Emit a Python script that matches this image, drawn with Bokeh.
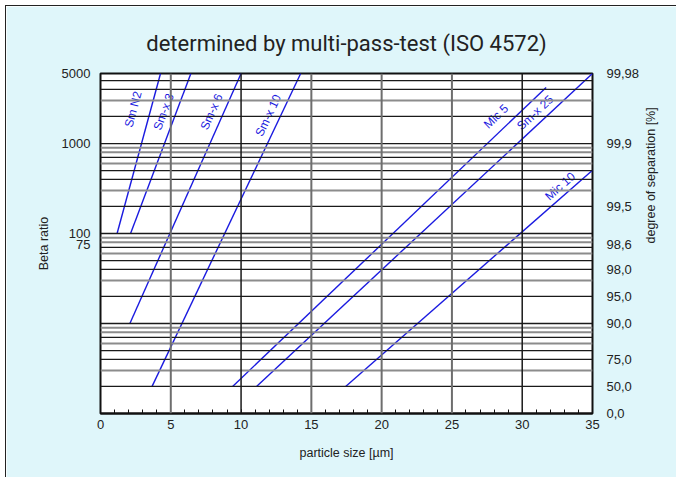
import math
from bokeh.plotting import figure
from bokeh.models import (LogAxis, FixedTicker, SingleIntervalTicker, Span,
                          ColumnDataSource, Range1d)
from bokeh.core.properties import value
from bokeh.embed import file_html
from bokeh.resources import INLINE

# ---------------- data ----------------
series = ["Sm N2", "Sm-x 3", "Sm-x 6", "Sm-x 10", "Mic 5", "Sm-x 25", "Mic 10"]
size_start = [1.18, 2.14, 2.09, 3.67, 9.4, 11.1, 17.44]      # particle size [µm]
size_end = [4.27, 6.43, 10.0, 14.24, 31.7, 35.0, 35.0]
beta_start = [100, 100, 10, 2, 2, 2, 2]                     # beta ratio
beta_end = [6000, 6000, 6000, 6000, 4200, 6000, 505]
label_size = [2.32, 4.49, 7.90, 11.93, 28.14, 30.92, 32.70]
label_beta = [2400, 2250, 2250, 2050, 2000, 2200, 335]

left_ticks = [75, 100, 1000, 6000]
left_labels = ["75", "100", "1000", "5000"]
right_ticks = [1, 2, 4, 10, 20, 40, 75, 200, 1000, 6000]
right_labels = ["0,0", "50,0", "75,0", "90,0", "95,0", "98,0", "98,6",
                "99,5", "99,9", "99,98"]
x_major = [5, 10, 15, 20, 25, 30]

# ---------------- styling constants ----------------
X_MIN, X_MAX = 0, 35
Y_MIN, Y_MAX = 1, 6000
FW, FH = 492, 340
BLUE = "#1a1ae0"
BG = "#dff6fa"
FONT = "Liberation Sans"

p = figure(frame_width=FW, frame_height=FH,
           x_range=Range1d(X_MIN, X_MAX), y_range=Range1d(Y_MIN, Y_MAX),
           y_axis_type="log", output_backend="svg", toolbar_location=None,
           min_border_left=94, min_border_right=84, min_border_top=67,
           min_border_bottom=64,
           background_fill_color="white", border_fill_color=BG,
           outline_line_color="#111111", outline_line_width=2,
           title="determined by multi-pass-test (ISO 4572)")
p.styles = {"margin-left": "5px", "margin-top": "5px",
            "border-left": "1px solid #222", "border-top": "1px solid #222"}

p.title.align = "center"
p.title.text_font = "Roboto"
p.title.text_font_size = "22px"
p.title.text_font_style = "normal"
p.title.text_color = "#222222"
p.title.standoff = 36

p.xgrid.visible = False
p.ygrid.visible = False

# horizontal log grid lines
for k in range(0, 4):
    for n in range(1, 10):
        v = n * 10 ** k
        if v <= Y_MIN or v >= Y_MAX:
            continue
        dark = n in (1, 2, 4, 5, 7)
        p.add_layout(Span(location=v, dimension="width",
                          line_color="#1a1a1a" if dark else "#8c8c8c",
                          line_width=1.3 if dark else 2))
# vertical grid lines
for xv in x_major:
    dark = xv in (10, 30)
    p.add_layout(Span(location=xv, dimension="height",
                      line_color="#1a1a1a" if dark else "#6e6e6e",
                      line_width=1.5 if dark else 2))

# filter lines
ppx = FW / (X_MAX - X_MIN)
ppd = FH / (math.log10(Y_MAX) - math.log10(Y_MIN))
angles = [math.atan2((math.log10(b1) - math.log10(b0)) * ppd, (x1 - x0) * ppx)
          for x0, x1, b0, b1 in zip(size_start, size_end, beta_start, beta_end)]

src = ColumnDataSource(dict(x0=size_start, x1=size_end, y0=beta_start,
                            y1=beta_end, name=series, lx=label_size,
                            ly=label_beta, angle=angles))
p.segment(x0="x0", y0="y0", x1="x1", y1="y1", source=src,
          line_color=BLUE, line_width=1.4)
p.text(x="lx", y="ly", text="name", angle="angle", source=src,
       text_align="center", text_baseline="middle",
       text_font=value(FONT), text_font_size="12px", text_color=BLUE)

# x axis
xa = p.xaxis[0]
xa.ticker = SingleIntervalTicker(interval=5, num_minor_ticks=5)
xa.axis_label = "particle size [µm]"
xa.major_tick_in = 4
xa.major_tick_out = 0
xa.minor_tick_in = 4
xa.minor_tick_out = 0
xa.major_tick_line_color = "#111111"
xa.minor_tick_line_color = "#111111"
xa.axis_line_color = "#111111"
xa.axis_line_width = 2
xa.major_label_standoff = 6
xa.axis_label_standoff = 14

# left axis
ya = p.yaxis[0]
ya.ticker = FixedTicker(ticks=left_ticks)
ya.major_label_overrides = dict(zip(left_ticks, left_labels))
ya.axis_label = "Beta ratio"
ya.major_label_standoff = 4
ya.axis_label_standoff = 8

# right axis
ra = LogAxis(ticker=FixedTicker(ticks=right_ticks),
             major_label_overrides=dict(zip(right_ticks, right_labels)),
             axis_label="degree of separation [%]")
p.add_layout(ra, "right")
ra.major_label_standoff = 8
ra.axis_label_standoff = 9
ra.axis_label_orientation = math.pi / 2

for ax in (ya, ra):
    ax.major_tick_line_color = None
    ax.minor_tick_line_color = None
    ax.axis_line_color = None

for ax in (xa, ya, ra):
    ax.major_label_text_font = FONT
    ax.major_label_text_font_size = "13px"
    ax.major_label_text_color = "#222222"
    ax.axis_label_text_font = FONT
    ax.axis_label_text_font_size = "12.5px"
    ax.axis_label_text_font_style = "normal"
    ax.axis_label_text_color = "#222222"

open("out.html", "w").write(file_html(p, INLINE))
